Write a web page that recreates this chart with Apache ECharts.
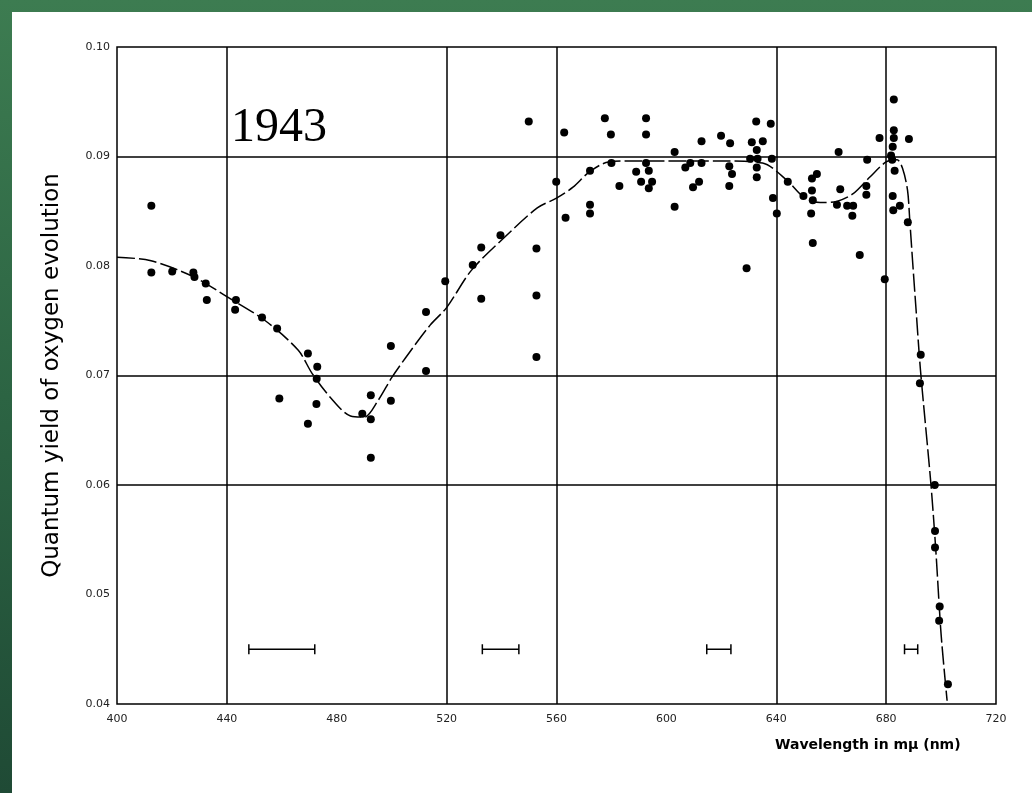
<!DOCTYPE html>
<html>
<head>
<meta charset="utf-8">
<style>
  html, body { margin:0; padding:0; }
  body { width:1032px; height:793px; overflow:hidden;
         background: linear-gradient(180deg, #3d7c51 0%, #2c6443 50%, #1f4a35 100%); position:relative; }
  #paper { position:absolute; left:12px; top:12px; width:1020px; height:781px; background:#fff; }
  #main { position:absolute; left:0; top:0; width:1032px; height:793px; }
</style>
</head>
<body>
<div id="paper"></div>
<div id="main"></div>
<script src="https://cdn.jsdelivr.net/npm/echarts@6/dist/echarts.min.js"></script>
<script>
// measured points: [wavelength nm, quantum yield]
var points = [
  [412.5,0.0855],[412.5,0.0794],[420.1,0.0795],[427.8,0.0794],[428.2,0.0790],[432.3,0.0784],[432.7,0.0769],
  [443.3,0.0769],[443.0,0.0760],[452.8,0.0753],[458.3,0.0743],[459.1,0.0679],[469.5,0.0720],[472.9,0.0708],
  [472.7,0.0697],[472.6,0.0674],[469.5,0.0656],[489.3,0.0665],[492.4,0.0682],[492.4,0.0660],[492.4,0.0625],
  [499.7,0.0727],[499.7,0.0677],[512.5,0.0758],[512.5,0.0704],[519.5,0.0786],
  [529.5,0.0801],[532.6,0.0817],[532.6,0.0770],[539.6,0.0828],[549.9,0.0932],[552.7,0.0816],[552.7,0.0773],
  [552.7,0.0717],[559.9,0.0877],[562.8,0.0922],[563.3,0.0844],[572.2,0.0856],[572.2,0.0848],[572.2,0.0887],
  [577.6,0.0935],[579.8,0.0920],[580.0,0.0894],[582.9,0.0873],[589.0,0.0886],[590.8,0.0877],[592.6,0.0935],
  [592.6,0.0920],[592.6,0.0894],[593.6,0.0887],[594.8,0.0877],[593.6,0.0871],[603.0,0.0904],[603.0,0.0854],
  [606.9,0.0890],[608.7,0.0894],[609.7,0.0872],[611.9,0.0877],[612.8,0.0914],[612.8,0.0894],[619.9,0.0919],
  [623.2,0.0912],[622.9,0.0891],[623.9,0.0884],[622.9,0.0873],
  [629.2,0.0798],[631.1,0.0913],[632.7,0.0932],[632.9,0.0906],[630.5,0.0898],[633.2,0.0898],[632.9,0.0890],
  [632.9,0.0881],[635.1,0.0914],[638.0,0.0930],[638.4,0.0898],[638.8,0.0862],[640.2,0.0848],[644.2,0.0877],
  [649.9,0.0864],[653.0,0.0880],[654.8,0.0884],[653.0,0.0869],[653.3,0.0860],[652.7,0.0848],[653.3,0.0821],
  [662.7,0.0904],[663.3,0.0870],[662.1,0.0856],[665.8,0.0855],[668.0,0.0855],[667.7,0.0846],[670.4,0.0810],
  [673.1,0.0897],[672.8,0.0873],[672.8,0.0865],[677.6,0.0917],[679.5,0.0788],[682.8,0.0952],[682.8,0.0924],
  [682.8,0.0917],[682.4,0.0909],[681.8,0.0901],[682.2,0.0897],[683.1,0.0887],[682.4,0.0864],[682.6,0.0851],
  [685.0,0.0855],[688.3,0.0916],[687.9,0.0840],[692.6,0.0719],[692.3,0.0693],[697.7,0.0600],[697.8,0.0558],
  [697.8,0.0543],[699.5,0.0489],[699.3,0.0476],[702.5,0.0418]
];
// fitted curve drawn on the original figure
var curve = [
  [400,0.0808],[412,0.0805],[428,0.0790],[440,0.0772],[454,0.0750],[466,0.0723],[471,0.0702],[478,0.0679],
  [485,0.0663],[490,0.0662],[495,0.0677],[500,0.0698],[505,0.0716],[514,0.0746],[520,0.0762],[529,0.0796],
  [541,0.0826],[553,0.0853],[560,0.0862],[566,0.0872],[572,0.0886],[579,0.0895],[590,0.0896],[620,0.0896],
  [635,0.0894],[644,0.0878],[650,0.0863],[656,0.0858],[662,0.0859],[668,0.0866],[674,0.0881],[680,0.0895],
  [684,0.0897],[686,0.0889],[687.8,0.0869],[688.6,0.0842],[689.7,0.0802],[690.9,0.0760],[692.5,0.0705],
  [696.3,0.0601],[698.1,0.0540],[700.0,0.0464],[702.2,0.0403]
];
// horizontal bars (spectral width) at y = 0.045
var barLo = [448, 533, 614.7, 686.7];
var barHi = [472, 546.3, 623.5, 691.5];
var barY = 0.045;
// grid lines present in the original
var vLines = [440, 520, 560, 640, 680];
var hLines = [0.09, 0.07, 0.06];

var chart = echarts.init(document.getElementById('main'));
var option = {
  animation: false,
  grid: { left: 117, right: 36, top: 47, bottom: 89, show: true, borderColor: '#000', borderWidth: 1.5 },
  xAxis: {
    type: 'value', min: 400, max: 720, interval: 40,
    axisLine: { show: false }, axisTick: { show: false }, splitLine: { show: false },
    axisLabel: { color: '#222', fontSize: 11, fontFamily: 'DejaVu Sans', margin: 10 }
  },
  yAxis: {
    type: 'value', min: 0.04, max: 0.10, interval: 0.01,
    name: 'Quantum yield of oxygen evolution', nameLocation: 'middle', nameGap: 53,
    nameTextStyle: { color: '#000', fontSize: 23, fontFamily: 'DejaVu Sans' },
    axisLine: { show: false }, axisTick: { show: false }, splitLine: { show: false },
    axisLabel: { color: '#222', fontSize: 11, fontFamily: 'DejaVu Sans', margin: 7,
                 formatter: function (v) { return v.toFixed(2); } }
  },
  graphic: [
    { type: 'text', left: 775, top: 738,
      style: { text: 'Wavelength in m\u03bc (nm)', fill: '#000', font: 'bold 14px "DejaVu Sans"' } },
    { type: 'text', left: 231, top: 104,
      style: { text: '1943', fill: '#000', font: '48px "Liberation Serif"' } }
  ],
  series: [
    {
      type: 'line', data: curve, showSymbol: false, smooth: 0.3, silent: true,
      lineStyle: { color: '#000', width: 1.5, type: [18, 4] },
      markLine: {
        silent: true, symbol: 'none', label: { show: false },
        lineStyle: { color: '#000', width: 1.5, type: 'solid' },
        data: vLines.map(function (v) { return { xAxis: v }; })
          .concat(hLines.map(function (v) { return { yAxis: v }; }))
      }
    },
    {
      type: 'scatter', data: points, symbol: 'circle', symbolSize: 8,
      itemStyle: { color: '#000', opacity: 1 }
    },
    {
      type: 'custom',
      data: barLo.map(function (lo, i) { return [lo, barHi[i], barY]; }),
      renderItem: function (params, api) {
        var a = api.coord([api.value(0), api.value(2)]);
        var b = api.coord([api.value(1), api.value(2)]);
        var h = 5;
        var st = { stroke: '#000', lineWidth: 1.5 };
        return { type: 'group', children: [
          { type: 'line', shape: { x1: a[0], y1: a[1], x2: b[0], y2: b[1] }, style: st },
          { type: 'line', shape: { x1: a[0], y1: a[1] - h, x2: a[0], y2: a[1] + h }, style: st },
          { type: 'line', shape: { x1: b[0], y1: b[1] - h, x2: b[0], y2: b[1] + h }, style: st }
        ] };
      }
    }
  ]
};
chart.setOption(option);
</script>
</body>
</html>
